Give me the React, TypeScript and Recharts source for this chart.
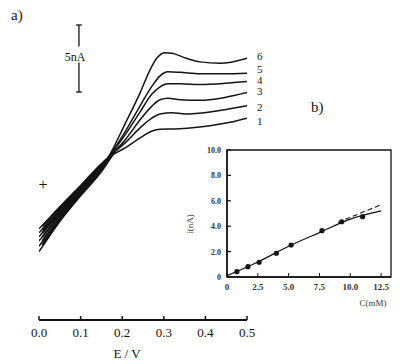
import { LineChart, Line, XAxis, YAxis, ReferenceLine, ComposedChart, Scatter, ReferenceArea } from 'recharts';

// panel a) voltammograms, E in V, i in nA
const E_TICKS = [0, 0.1, 0.2, 0.3, 0.4, 0.5];

const curve1 = [
  { E: 0, i: 6.8 }, { E: 0.026, i: 7.6 }, { E: 0.055, i: 8.5 }, { E: 0.087, i: 9.5 }, { E: 0.123, i: 10.8 },
  { E: 0.166, i: 12.1 }, { E: 0.207, i: 12.84 }, { E: 0.243, i: 13.58 }, { E: 0.272, i: 14.1 }, { E: 0.291, i: 14.22 },
  { E: 0.327, i: 14.25 }, { E: 0.363, i: 14.31 }, { E: 0.411, i: 14.48 }, { E: 0.459, i: 14.74 }, { E: 0.5, i: 15.05 },
];
const curve2 = [
  { E: 0, i: 6.5 }, { E: 0.026, i: 7.4 }, { E: 0.055, i: 8.3 }, { E: 0.087, i: 9.4 }, { E: 0.123, i: 10.7 },
  { E: 0.166, i: 12.1 }, { E: 0.207, i: 13.21 }, { E: 0.243, i: 14.33 }, { E: 0.272, i: 15.07 }, { E: 0.291, i: 15.37 },
  { E: 0.32, i: 15.45 }, { E: 0.351, i: 15.37 }, { E: 0.411, i: 15.52 }, { E: 0.459, i: 15.75 }, { E: 0.5, i: 15.97 },
];
const curve3 = [
  { E: 0, i: 6.2 }, { E: 0.026, i: 7.2 }, { E: 0.055, i: 8.2 }, { E: 0.087, i: 9.3 }, { E: 0.123, i: 10.6 },
  { E: 0.166, i: 12.1 }, { E: 0.207, i: 13.43 }, { E: 0.243, i: 14.93 }, { E: 0.272, i: 15.97 }, { E: 0.291, i: 16.42 },
  { E: 0.31, i: 16.53 }, { E: 0.339, i: 16.42 }, { E: 0.387, i: 16.38 }, { E: 0.447, i: 16.6 }, { E: 0.5, i: 16.96 },
];
const curve4 = [
  { E: 0, i: 5.9 }, { E: 0.026, i: 6.9 }, { E: 0.055, i: 8.0 }, { E: 0.087, i: 9.1 }, { E: 0.123, i: 10.5 },
  { E: 0.166, i: 12.1 }, { E: 0.207, i: 13.81 }, { E: 0.243, i: 15.52 }, { E: 0.272, i: 16.87 }, { E: 0.291, i: 17.39 },
  { E: 0.31, i: 17.61 }, { E: 0.339, i: 17.61 }, { E: 0.387, i: 17.57 }, { E: 0.447, i: 17.65 }, { E: 0.5, i: 17.78 },
];
const curve5 = [
  { E: 0, i: 5.5 }, { E: 0.026, i: 6.6 }, { E: 0.055, i: 7.8 }, { E: 0.087, i: 9.0 }, { E: 0.123, i: 10.4 },
  { E: 0.166, i: 12.1 }, { E: 0.207, i: 14.03 }, { E: 0.243, i: 15.97 }, { E: 0.272, i: 17.46 }, { E: 0.291, i: 18.21 },
  { E: 0.31, i: 18.51 }, { E: 0.339, i: 18.47 }, { E: 0.387, i: 18.36 }, { E: 0.447, i: 18.36 }, { E: 0.5, i: 18.41 },
];
const curve6 = [
  { E: 0, i: 5.1 }, { E: 0.026, i: 6.3 }, { E: 0.055, i: 7.6 }, { E: 0.087, i: 8.9 }, { E: 0.123, i: 10.3 },
  { E: 0.166, i: 12.1 }, { E: 0.207, i: 14.63 }, { E: 0.243, i: 16.94 }, { E: 0.267, i: 18.66 }, { E: 0.284, i: 19.55 },
  { E: 0.303, i: 19.93 }, { E: 0.32, i: 19.89 }, { E: 0.351, i: 19.55 }, { E: 0.387, i: 19.25 }, { E: 0.435, i: 19.14 },
  { E: 0.5, i: 19.53 },
];

// reverse scans, only the tangled low-potential part
const back1 = [{ E: 0.008, i: 7.0 }, { E: 0.05, i: 8.4 }, { E: 0.1, i: 10.0 }, { E: 0.15, i: 11.6 }, { E: 0.18, i: 12.5 }];
const back2 = [{ E: 0.008, i: 6.7 }, { E: 0.05, i: 8.2 }, { E: 0.1, i: 9.8 }, { E: 0.15, i: 11.5 }, { E: 0.18, i: 12.5 }];
const back3 = [{ E: 0.008, i: 6.5 }, { E: 0.05, i: 8.0 }, { E: 0.1, i: 9.7 }, { E: 0.15, i: 11.4 }, { E: 0.18, i: 12.5 }];
const back4 = [{ E: 0.008, i: 6.2 }, { E: 0.05, i: 7.8 }, { E: 0.1, i: 9.5 }, { E: 0.15, i: 11.3 }, { E: 0.18, i: 12.5 }];
const back5 = [{ E: 0.008, i: 5.9 }, { E: 0.05, i: 7.6 }, { E: 0.1, i: 9.4 }, { E: 0.15, i: 11.2 }, { E: 0.18, i: 12.5 }];
const back6 = [{ E: 0.008, i: 5.6 }, { E: 0.05, i: 7.4 }, { E: 0.1, i: 9.3 }, { E: 0.15, i: 11.1 }, { E: 0.18, i: 12.5 }];

const curveNames = ['1', '2', '3', '4', '5', '6'];
const nameShift = [3, 1, -2, -2, -4, -2];

// panel b) calibration
const conc = [0.8, 1.7, 2.6, 4.0, 5.2, 7.7, 9.3, 11.0];
const current = [0.42, 0.81, 1.16, 1.87, 2.52, 3.65, 4.35, 4.75];
const fitC = [0, 2.5, 5, 7.5, 10, 12.5];
const fitI = [0.1, 1.18, 2.42, 3.5, 4.55, 5.2];
const dashC = [9.0, 12.5];
const dashI = [4.3, 5.7];
const C_TICKS = [0, 2.5, 5, 7.5, 10, 12.5];
const I_TICKS = [0, 1, 2, 3, 4, 5, 6, 7, 8, 9, 10];

const ink = '#141414';
const serif = 'Liberation Serif, Times New Roman, serif';
const serifStyle = { fontFamily: serif };

const points = conc.map((c, k) => ({ c, i: current[k] }));
const fit = fitC.map((c, k) => ({ c, i: fitI[k] }));
const dash = dashC.map((c, k) => ({ c, i: dashI[k] }));

const curves = [curve1, curve2, curve3, curve4, curve5, curve6];
const backs = [back1, back2, back3, back4, back5, back6];

function endLabel(k: number, n: number) {
  return (p: any) => {
    if (p.index !== n - 1) return <g />;
    return (
      <text x={p.x + 10} y={p.y + 4 + nameShift[k]} fontSize={11} style={serifStyle} fill={ink}>
        {curveNames[k]}
      </text>
    );
  };
}

function MainTick(p: any) {
  return (
    <g>
      <line x1={p.x} y1={p.y} x2={p.x} y2={p.y - 4} stroke={ink} strokeWidth={1.5} />
      <text x={p.x} y={p.y + 17} textAnchor="middle" fontSize={13} style={serifStyle} fill={ink}>
        {p.payload.value.toFixed(1)}
      </text>
    </g>
  );
}

function InsetXTick(p: any) {
  const v = p.payload.value;
  return (
    <g>
      <line x1={p.x} y1={p.y} x2={p.x} y2={p.y - 4} stroke={ink} strokeWidth={1} />
      <text x={p.x} y={p.y + 13} textAnchor="middle" fontSize={9} fontWeight="bold" style={{ ...serifStyle, fill: '#333' }}>
        {v === 0 ? '0' : v.toFixed(1)}
      </text>
    </g>
  );
}

function InsetYTick(p: any) {
  const v = p.payload.value;
  return (
    <g>
      <line x1={p.x} y1={p.y} x2={p.x + 4} y2={p.y} stroke={ink} strokeWidth={1.2} />
      {v % 2 === 0 && (
        <text x={p.x - 6} y={p.y + 3} textAnchor="end" fontSize={8} fontWeight="bold" style={{ ...serifStyle, fill: '#333' }}>
          {v === 0 ? '0' : v.toFixed(1)}
        </text>
      )}
    </g>
  );
}

const Dotty = (p: any) => <circle cx={p.cx} cy={p.cy} r={2.6} fill={ink} />;

export default function App() {
  return (
    <div style={{ position: 'absolute', left: 0, top: 0, width: 403, height: 364, background: '#fff' }}>
      <div style={{ position: 'absolute', left: 0, top: 0 }}>
        <LineChart width={403} height={364} margin={{ top: 25, right: 156, bottom: 4, left: 39 }}>
          <XAxis
            type="number"
            dataKey="E"
            domain={[0, 0.5]}
            ticks={E_TICKS}
            height={40}
            tickSize={0}
            tickMargin={0}
            tick={<MainTick />}
            axisLine={{ stroke: ink, strokeWidth: 2 }}
            allowDataOverflow
          />
          <YAxis hide type="number" dataKey="i" domain={[0, 22]} allowDataOverflow />
          {backs.map((b, k) => (
            <Line key={'b' + k} data={b} dataKey="i" type="monotone" stroke={ink} strokeWidth={2.2} dot={false} isAnimationActive={false} />
          ))}
          {curves.map((c, k) => (
            <Line
              key={'c' + k}
              data={c}
              dataKey="i"
              type="monotone"
              stroke={ink}
              strokeWidth={1.5}
              dot={false}
              isAnimationActive={false}
              label={endLabel(k, c.length)}
            />
          ))}
          {/* 5 nA scale bar */}
          <ReferenceLine segment={[{ x: 0.096, y: 22 }, { x: 0.096, y: 20.4 }]} stroke={ink} strokeWidth={1.3} ifOverflow="visible" />
          <ReferenceLine segment={[{ x: 0.096, y: 19.2 }, { x: 0.096, y: 17 }]} stroke={ink} strokeWidth={1.3} ifOverflow="visible" />
          <ReferenceLine segment={[{ x: 0.089, y: 22 }, { x: 0.103, y: 22 }]} stroke={ink} strokeWidth={1.3} ifOverflow="visible" />
          <ReferenceLine segment={[{ x: 0.089, y: 17 }, { x: 0.103, y: 17 }]} stroke={ink} strokeWidth={1.3} ifOverflow="visible" />
        </LineChart>
      </div>

      <div style={{ position: 'absolute', left: 180, top: 140 }}>
        <ComposedChart width={223} height={170} margin={{ top: 10, right: 12, bottom: 0, left: 7 }}>
          <XAxis
            type="number"
            dataKey="c"
            domain={[0, 13.3]}
            ticks={C_TICKS}
            height={33}
            tickSize={0}
            tickMargin={0}
            tick={<InsetXTick />}
            axisLine={{ stroke: ink, strokeWidth: 1.5 }}
            allowDataOverflow
          />
          <YAxis
            type="number"
            dataKey="i"
            domain={[0, 10]}
            ticks={I_TICKS}
            width={40}
            tickSize={0}
            tickMargin={0}
            tick={<InsetYTick />}
            axisLine={{ stroke: ink, strokeWidth: 1.5 }}
            allowDataOverflow
          />
          <ReferenceArea x1={0} x2={13.3} y1={0} y2={10} fill="none" fillOpacity={0} stroke={ink} strokeWidth={1.3} />
          <Line data={fit} dataKey="i" type="monotone" stroke={ink} strokeWidth={1.3} dot={false} isAnimationActive={false} />
          <Line data={dash} dataKey="i" type="linear" stroke={ink} strokeWidth={1.1} strokeDasharray="5 3" dot={false} isAnimationActive={false} />
          <Scatter data={points} dataKey="i" shape={<Dotty />} isAnimationActive={false} />
        </ComposedChart>
      </div>

      <svg width={403} height={364} style={{ position: 'absolute', left: 0, top: 0, pointerEvents: 'none' }}>
        <g style={serifStyle} fill={ink}>
          <text x={11} y={20} fontSize={15}>a)</text>
          <text x={311} y={112} fontSize={15}>b)</text>
          <text x={43} y={190} fontSize={16} textAnchor="middle">+</text>
          <text x={75} y={61} fontSize={12} textAnchor="middle">5nA</text>
          <text x={127} y={358} fontSize={13} textAnchor="middle">E / V</text>
          <text x={373} y={306} fontSize={9} textAnchor="middle" fill="#333">C(mM)</text>
          <text x={0} y={0} fontSize={9} textAnchor="middle" fill="#333" transform="translate(193,224) rotate(-90)">i(nA)</text>
        </g>
      </svg>
    </div>
  );
}
